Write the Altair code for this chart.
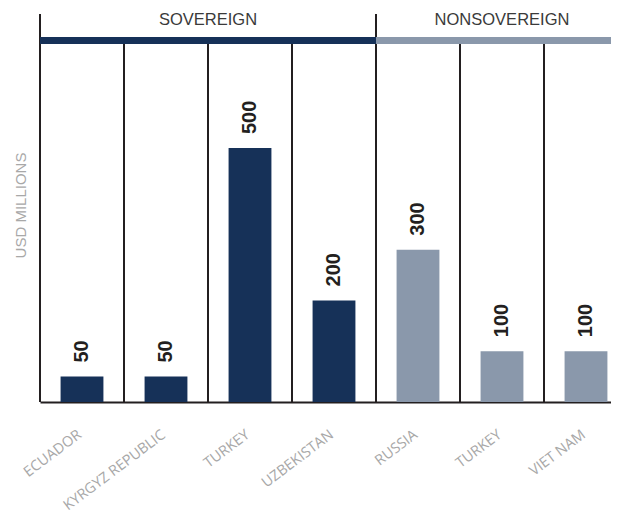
import altair as alt
import pandas as pd

countries = ["ECUADOR", "KYRGYZ REPUBLIC", "TURKEY", "UZBEKISTAN", "RUSSIA", "TURKEY", "VIET NAM"]
groups = ["SOVEREIGN", "SOVEREIGN", "SOVEREIGN", "SOVEREIGN",
          "NONSOVEREIGN", "NONSOVEREIGN", "NONSOVEREIGN"]
values = [50, 50, 500, 200, 300, 100, 100]
group_names = ["SOVEREIGN", "NONSOVEREIGN"]
group_colors = ["#163158", "#8a98ab"]

keys = [f"{g}|{c}" for g, c in zip(groups, countries)]
first = [i == 0 or groups[i] != groups[i - 1] for i in range(len(groups))]
df = pd.DataFrame({"key": keys, "country": countries, "group": groups,
                   "value": values, "first": first})

W, H = 571, 388
YMAX = 764

# the last column runs past the right edge of the picture, as in the reference
x_scale = alt.Scale(domain=keys, range=[0, 588], paddingInner=0, paddingOuter=0)
x_axis = alt.Axis(title=None, labelExpr="split(datum.label, '|')[1]",
                  labelAngle=323, labelFont="Open Sans", labelFontSize=14.5,
                  labelColor="#a8a8a8", labelPadding=31, labelOffset=-2, ticks=False,
                  domainColor="#231f20", domainWidth=2,
                  labelAlign="right", labelBaseline="middle")
y_enc = alt.Y("value:Q", scale=alt.Scale(domain=[0, YMAX], nice=False),
              axis=alt.Axis(title="USD MILLIONS", labels=False, ticks=False,
                            domain=False, grid=False, titleFont="Liberation Sans",
                            titleFontSize=15, titleColor="#a8a8a8",
                            titleFontWeight="normal", titleX=-20, titleY=191,
                            titleAngle=270, titleAlign="center",
                            titleBaseline="middle"))
color = alt.Color("group:N", scale=alt.Scale(domain=group_names, range=group_colors),
                  legend=None)

def xe(bp=None):
    if bp is None:
        return alt.X("key:N", scale=x_scale, sort=keys, axis=x_axis)
    return alt.X("key:N", scale=x_scale, sort=keys, axis=x_axis, bandPosition=bp)

base = alt.Chart(df)

dividers = base.mark_rule(color="#231f20", strokeWidth=2).encode(
    x=xe(0), y=alt.value(27), y2=alt.value(H))
tops = base.transform_filter("datum.first").mark_rule(
    color="#231f20", strokeWidth=2).encode(
    x=xe(0), y=alt.value(0), y2=alt.value(27))

bars = base.mark_bar(width={"band": 0.51}).encode(x=xe(), y=y_enc, color=color)

header_bar = base.mark_rect().encode(
    x=xe(), y=alt.value(23), y2=alt.value(30), color=color)

labels = base.mark_text(angle=270, align="left", baseline="middle", dx=14,
                        font="Liberation Sans", fontWeight="bold", fontSize=20,
                        color="#231f20").encode(x=xe(), y=y_enc, text="value:Q")

hdr_style = dict(align="center", baseline="middle", font="Liberation Sans",
                 fontSize=16.5, color="#3a3a3a")
hdr1 = base.transform_filter("datum.key == 'SOVEREIGN|TURKEY'").mark_text(
    **hdr_style).encode(x=xe(0), y=alt.value(6), text="group:N")
hdr2 = base.transform_filter("datum.key == 'NONSOVEREIGN|TURKEY'").mark_text(
    **hdr_style).encode(x=xe(0.5), y=alt.value(6), text="group:N")

chart = alt.layer(dividers, tops, bars, header_bar, labels, hdr1, hdr2).properties(
    width=W, height=H,
    autosize=alt.AutoSizeParams(type="none"),
    padding={"left": 32, "top": 6, "right": 0, "bottom": 112},
    background="white",
).configure_view(stroke=None)

chart.save("out.html", embed_options={"renderer": "svg", "actions": False})
